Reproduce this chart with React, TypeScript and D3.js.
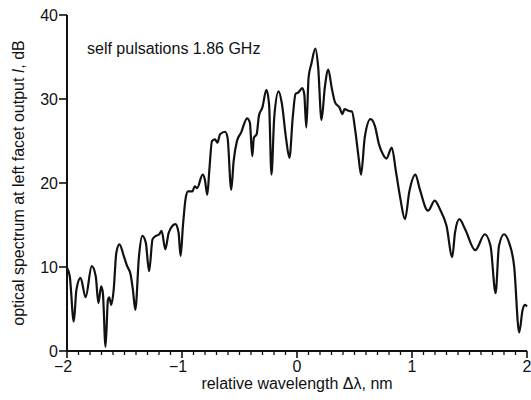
import React from "react";
import * as d3 from "d3";

const wavelength = [
  -2.0, -1.976, -1.941, -1.918, -1.882, -1.838, -1.785, -1.75, -1.727, -1.703, -1.688, -1.665, -1.644, -1.633,
  -1.615, -1.594, -1.571, -1.544, -1.506, -1.477, -1.447, -1.427, -1.406, -1.374, -1.345, -1.315, -1.286, -1.256,
  -1.227, -1.198, -1.177, -1.145, -1.115, -1.057, -1.03, -1.012, -0.992, -0.968, -0.948, -0.91, -0.889, -0.868,
  -0.821, -0.801, -0.78, -0.763, -0.739, -0.713, -0.692, -0.669, -0.625, -0.604, -0.572, -0.551, -0.522, -0.486,
  -0.434, -0.41, -0.389, -0.375, -0.351, -0.331, -0.301, -0.266, -0.243, -0.222, -0.198, -0.16, -0.131, -0.096,
  -0.066, -0.037, -0.013, 0.013, 0.046, 0.063, 0.081, 0.101, 0.125, 0.16, 0.184, 0.213, 0.242, 0.272, 0.301,
  0.331, 0.369, 0.395, 0.413, 0.448, 0.478, 0.507, 0.536, 0.557, 0.589, 0.639, 0.677, 0.713, 0.748, 0.777, 0.824,
  0.86, 0.898, 0.939, 0.977, 1.03, 1.065, 1.139, 1.198, 1.242, 1.3, 1.35, 1.374, 1.412, 1.462, 1.55, 1.633, 1.683,
  1.727, 1.756, 1.8, 1.844, 1.888, 1.932, 1.962, 1.982, 2.0,
];

const spectrum = [
  9.9, 8.9, 3.5, 7.3, 8.7, 6.4, 10.1, 8.9, 5.7, 7.7, 6.9, 0.5, 6.1, 6.4,
  5.5, 7.3, 11.7, 12.7, 11.3, 10.1, 9.1, 7.3, 4.9, 11.3, 13.7, 12.9, 9.5, 13.3,
  13.7, 13.9, 14.3, 12.1, 14.1, 15.1, 14.1, 11.3, 14.9, 18.2, 19.0, 19.0, 19.6, 19.4,
  21.0, 20.4, 18.6, 21.4, 25.0, 25.2, 24.8, 25.8, 26.1, 25.4, 19.2, 22.6, 25.0, 26.0,
  27.7, 27.2, 23.2, 25.4, 25.8, 28.0, 29.0, 31.1, 29.4, 21.0, 27.8, 30.9, 29.4, 25.4,
  23.0, 27.8, 30.6, 30.8, 31.3, 30.6, 26.6, 32.6, 34.2, 36.0, 33.8, 27.5, 31.4, 33.5, 31.4,
  29.6, 29.0, 28.2, 28.8, 28.6, 28.5, 26.2, 23.0, 21.0, 25.4, 27.6, 26.8, 24.6, 23.4, 22.9, 24.2,
  21.4, 18.2, 15.7, 19.0, 21.0, 19.4, 16.7, 17.9, 16.9, 14.9, 11.2, 14.1, 15.7, 14.5, 12.0, 13.9, 12.5,
  6.9, 12.5, 13.9, 12.9, 10.1, 2.2, 4.9, 5.5, 5.3,
];

const xTicks = [-2, -1, 0, 1, 2];
const yTicks = [0, 10, 20, 30, 40];
const xLabel = "relative wavelength \u0394\u03bb, nm";
const yLabelMain = "optical spectrum at left facet output ";
const yLabelItalic = "I";
const yLabelEnd = ", dB";
const annotation = "self pulsations 1.86 GHz";

const W = 531;
const H = 400;
const FONT = "'Liberation Sans', Arial, Helvetica, sans-serif";

export default function App() {
  const x = d3.scaleLinear().domain([-2, 2]).range([67, 527]);
  const y = d3.scaleLinear().domain([0, 40]).range([351, 15]);
  const pts = wavelength.map((w, i) => [w, spectrum[i]] as [number, number]);
  const line = d3
    .line<[number, number]>()
    .x((d) => x(d[0]))
    .y((d) => y(d[1]))
    .curve(d3.curveMonotoneX);
  const minor = d3.range(-20, 21).map((v) => v / 10).filter((v) => !xTicks.includes(v));

  return (
    <svg
      width={W}
      height={H}
      style={{ position: "absolute", left: 0, top: 0, background: "#fff" }}
      fontFamily={FONT}
    >
      {/* curve */}
      <path d={line(pts) || ""} fill="none" stroke="#111" strokeWidth={2.2} strokeLinejoin="round" />
      {/* axes */}
      <line x1={x(-2)} x2={x(2)} y1={y(0)} y2={y(0)} stroke="#111" strokeWidth={2} />
      <line x1={x(-2)} x2={x(-2)} y1={y(0)} y2={y(40)} stroke="#111" strokeWidth={2} />
      {minor.map((v) => (
        <line key={"m" + v} x1={x(v)} x2={x(v)} y1={y(0)} y2={y(0) + 4} stroke="#111" strokeWidth={1.3} />
      ))}
      {xTicks.map((v) => (
        <g key={"x" + v}>
          <line x1={x(v)} x2={x(v)} y1={y(0)} y2={y(0) + 7} stroke="#111" strokeWidth={1.6} />
          <text x={x(v) - (v < 0 ? 4 : 0)} y={372} textAnchor="middle" fontSize={16} fill="#111">
            {v < 0 ? "\u2212" + Math.abs(v) : String(v)}
          </text>
        </g>
      ))}
      {yTicks.map((v) => (
        <g key={"y" + v}>
          <line x1={x(-2) - 8} x2={x(-2)} y1={y(v)} y2={y(v)} stroke="#111" strokeWidth={1.6} />
          <text x={x(-2) - 9} y={y(v) + 5.5} textAnchor="end" fontSize={16} fill="#111">
            {v}
          </text>
        </g>
      ))}
      <text x={297} y={389} textAnchor="middle" fontSize={16} fill="#111">
        {xLabel}
      </text>
      <text
        transform={`translate(24, ${183}) rotate(-90)`}
        textAnchor="middle"
        fontSize={16}
        fill="#111"
      >
        {yLabelMain}
        <tspan fontStyle="italic">{yLabelItalic}</tspan>
        {yLabelEnd}
      </text>
      <text x={87} y={54} fontSize={16} fill="#111">
        {annotation}
      </text>
    </svg>
  );
}
